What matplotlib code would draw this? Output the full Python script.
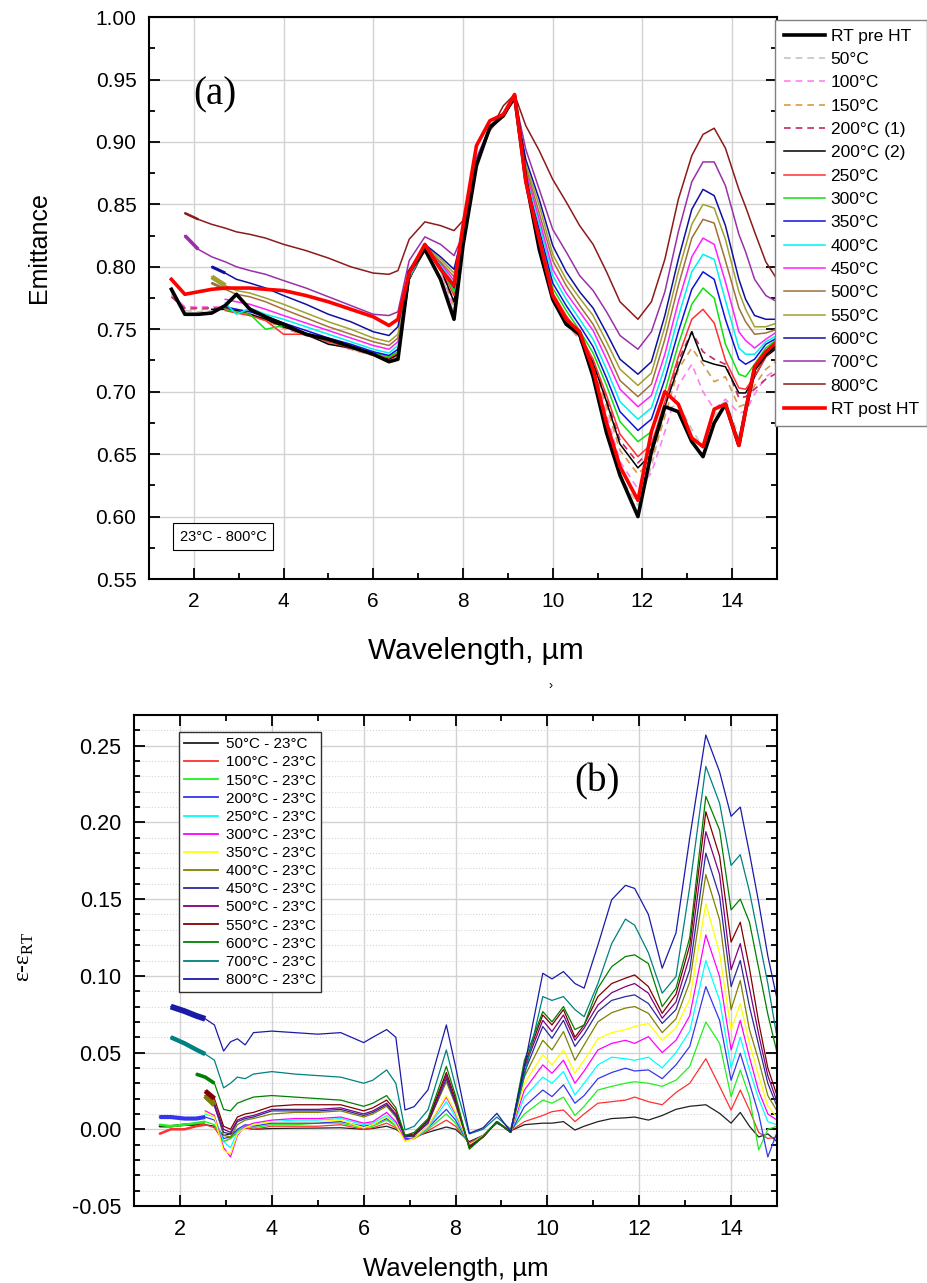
import matplotlib.pyplot as plt
from matplotlib.ticker import MultipleLocator, FormatStrFormatter

plt.rcParams['font.family'] = ['Liberation Sans', 'DejaVu Sans']

nan = float('nan')

# ---------------- (a) emittance vs wavelength ----------------
wl_a = [1.5, 1.8, 2.1, 2.4, 2.7, 2.95, 3.25, 3.6, 4.0,
        4.5, 5.0, 5.5, 6.0, 6.35, 6.55, 6.8, 7.15, 7.5,
        7.8, 8.0, 8.3, 8.6, 8.9, 9.15, 9.4, 9.7, 10.0,
        10.3, 10.6, 10.9, 11.2, 11.5, 11.9, 12.2, 12.5, 12.8,
        13.1, 13.35, 13.6, 13.85, 14.15, 14.3, 14.5, 14.75, 15.0]

rt_pre = [0.782, 0.762, 0.762, 0.763, 0.769, 0.778, 0.766, 0.760, 0.754,
          0.746, 0.742, 0.736, 0.730, 0.724, 0.726, 0.796, 0.814, 0.790,
          0.758, 0.817, 0.881, 0.912, 0.921, 0.937, 0.870, 0.814, 0.774,
          0.754, 0.746, 0.712, 0.667, 0.633, 0.600, 0.652, 0.688, 0.684,
          0.660, 0.648, 0.675, 0.690, 0.657, 0.685, 0.718, 0.730, 0.738]
e50 = [0.780, 0.765, 0.764, 0.765, 0.766, 0.766, 0.763, 0.758, 0.752,
       0.745, 0.739, 0.734, 0.729, 0.725, 0.728, 0.790, 0.814, 0.797,
       0.762, 0.818, 0.882, 0.910, 0.921, 0.934, 0.865, 0.815, 0.772,
       0.754, 0.742, 0.715, 0.676, 0.633, 0.609, 0.640, 0.685, 0.690,
       0.670, 0.655, 0.680, 0.694, 0.664, 0.685, 0.718, 0.730, 0.740]
e100 = [0.778, 0.768, 0.768, 0.768, 0.768, 0.765, 0.762, 0.757, 0.751,
        0.745, 0.739, 0.734, 0.729, 0.725, 0.729, 0.790, 0.814, 0.798,
        0.765, 0.819, 0.883, 0.910, 0.921, 0.934, 0.866, 0.817, 0.774,
        0.755, 0.742, 0.718, 0.682, 0.644, 0.622, 0.635, 0.668, 0.705,
        0.722, 0.700, 0.686, 0.694, 0.683, 0.684, 0.698, 0.712, 0.718]
e150 = [0.776, 0.766, 0.766, 0.766, 0.766, 0.764, 0.761, 0.757, 0.751,
        0.745, 0.740, 0.734, 0.729, 0.725, 0.729, 0.790, 0.814, 0.799,
        0.769, 0.820, 0.883, 0.910, 0.921, 0.934, 0.867, 0.819, 0.775,
        0.756, 0.742, 0.720, 0.688, 0.653, 0.634, 0.645, 0.680, 0.718,
        0.735, 0.722, 0.708, 0.712, 0.688, 0.690, 0.705, 0.718, 0.725]
e200_1 = [0.776, 0.767, 0.767, 0.767, 0.767, 0.765, 0.762, 0.758, 0.752,
          0.746, 0.740, 0.735, 0.730, 0.726, 0.730, 0.790, 0.814, 0.799,
          0.772, 0.820, 0.883, 0.910, 0.921, 0.934, 0.868, 0.821, 0.776,
          0.758, 0.744, 0.724, 0.694, 0.661, 0.643, 0.654, 0.690, 0.725,
          0.748, 0.732, 0.726, 0.722, 0.695, 0.696, 0.702, 0.710, 0.715]
e200_2 = [nan, nan, nan, 0.766, 0.766, 0.765, 0.762, 0.758, 0.752,
          0.746, 0.738, 0.735, 0.730, 0.726, 0.730, 0.790, 0.814, 0.799,
          0.772, 0.820, 0.883, 0.910, 0.921, 0.934, 0.868, 0.821, 0.776,
          0.758, 0.744, 0.723, 0.692, 0.658, 0.639, 0.650, 0.688, 0.720,
          0.748, 0.725, 0.722, 0.720, 0.699, 0.699, 0.712, 0.728, 0.735]
e250 = [nan, nan, nan, nan, 0.765, 0.763, 0.761, 0.757, 0.746,
        0.746, 0.740, 0.735, 0.730, 0.727, 0.731, 0.791, 0.814, 0.800,
        0.777, 0.821, 0.884, 0.910, 0.921, 0.934, 0.869, 0.824, 0.779,
        0.761, 0.746, 0.726, 0.697, 0.666, 0.648, 0.658, 0.692, 0.728,
        0.758, 0.766, 0.755, 0.725, 0.703, 0.702, 0.712, 0.728, 0.738]
e300 = [nan, nan, nan, nan, 0.766, 0.764, 0.762, 0.750, 0.753,
        0.747, 0.741, 0.736, 0.731, 0.728, 0.732, 0.791, 0.814, 0.800,
        0.780, 0.822, 0.884, 0.910, 0.922, 0.934, 0.870, 0.826, 0.783,
        0.765, 0.749, 0.731, 0.705, 0.676, 0.660, 0.668, 0.700, 0.738,
        0.770, 0.783, 0.775, 0.738, 0.714, 0.712, 0.722, 0.735, 0.742]
e350 = [nan, nan, nan, nan, 0.768, 0.766, 0.764, 0.760, 0.755,
        0.749, 0.743, 0.738, 0.732, 0.729, 0.734, 0.792, 0.814, 0.801,
        0.783, 0.823, 0.884, 0.910, 0.922, 0.934, 0.872, 0.830, 0.787,
        0.769, 0.753, 0.736, 0.711, 0.684, 0.669, 0.678, 0.710, 0.748,
        0.782, 0.796, 0.790, 0.758, 0.726, 0.722, 0.726, 0.738, 0.743]
e400 = [nan, nan, nan, nan, 0.771, 0.762, 0.767, 0.762, 0.758,
        0.752, 0.746, 0.740, 0.734, 0.731, 0.737, 0.792, 0.815, 0.802,
        0.786, 0.824, 0.885, 0.911, 0.922, 0.935, 0.874, 0.834, 0.793,
        0.774, 0.758, 0.742, 0.718, 0.692, 0.678, 0.687, 0.720, 0.760,
        0.796, 0.810, 0.806, 0.773, 0.735, 0.730, 0.730, 0.740, 0.745]
e450 = [nan, nan, nan, nan, 0.774, 0.772, 0.770, 0.766, 0.761,
        0.755, 0.749, 0.743, 0.737, 0.734, 0.740, 0.793, 0.815, 0.803,
        0.789, 0.825, 0.885, 0.911, 0.922, 0.935, 0.877, 0.838, 0.798,
        0.779, 0.764, 0.749, 0.726, 0.702, 0.688, 0.697, 0.730, 0.772,
        0.808, 0.823, 0.818, 0.788, 0.748, 0.741, 0.735, 0.742, 0.748]
e500 = [nan, nan, nan, 0.787, 0.782, 0.778, 0.776, 0.772, 0.766,
        0.759, 0.752, 0.746, 0.740, 0.737, 0.743, 0.794, 0.816, 0.804,
        0.792, 0.826, 0.885, 0.911, 0.922, 0.935, 0.880, 0.843, 0.805,
        0.785, 0.769, 0.754, 0.733, 0.709, 0.696, 0.706, 0.742, 0.785,
        0.823, 0.838, 0.835, 0.805, 0.767, 0.756, 0.746, 0.747, 0.750]
e550 = [nan, nan, nan, 0.792, 0.785, 0.781, 0.779, 0.775, 0.770,
        0.763, 0.756, 0.750, 0.743, 0.740, 0.746, 0.795, 0.817, 0.806,
        0.795, 0.827, 0.886, 0.911, 0.923, 0.935, 0.882, 0.849, 0.810,
        0.790, 0.775, 0.761, 0.740, 0.718, 0.705, 0.715, 0.752, 0.796,
        0.834, 0.850, 0.847, 0.822, 0.780, 0.766, 0.752, 0.752, 0.755]
e600 = [nan, nan, nan, 0.800, 0.795, 0.790, 0.787, 0.783, 0.777,
        0.770, 0.762, 0.756, 0.748, 0.745, 0.752, 0.797, 0.818, 0.808,
        0.798, 0.828, 0.886, 0.911, 0.923, 0.935, 0.886, 0.854, 0.817,
        0.796, 0.780, 0.767, 0.747, 0.726, 0.714, 0.724, 0.761, 0.806,
        0.846, 0.862, 0.857, 0.833, 0.790, 0.774, 0.761, 0.758, 0.758]
e700 = [nan, 0.825, 0.814, 0.808, 0.804, 0.800, 0.797, 0.794, 0.789,
        0.783, 0.776, 0.769, 0.762, 0.761, 0.764, 0.805, 0.824, 0.818,
        0.809, 0.826, 0.887, 0.912, 0.923, 0.936, 0.894, 0.862, 0.830,
        0.812, 0.793, 0.781, 0.764, 0.745, 0.734, 0.748, 0.780, 0.828,
        0.868, 0.884, 0.884, 0.865, 0.826, 0.812, 0.790, 0.777, 0.772]
e800 = [nan, 0.843, 0.838, 0.834, 0.831, 0.828, 0.826, 0.823, 0.818,
        0.813, 0.807, 0.800, 0.795, 0.794, 0.797, 0.822, 0.836, 0.833,
        0.829, 0.837, 0.883, 0.909, 0.929, 0.938, 0.913, 0.893, 0.870,
        0.852, 0.833, 0.818, 0.796, 0.772, 0.758, 0.772, 0.806, 0.854,
        0.889, 0.906, 0.911, 0.895, 0.862, 0.848, 0.828, 0.804, 0.790]
rt_post = [0.790, 0.778, 0.780, 0.782, 0.783, 0.783, 0.783, 0.782, 0.781,
           0.777, 0.772, 0.766, 0.760, 0.753, 0.758, 0.795, 0.818, 0.798,
           0.785, 0.833, 0.897, 0.917, 0.922, 0.938, 0.868, 0.822, 0.777,
           0.758, 0.748, 0.718, 0.675, 0.640, 0.613, 0.668, 0.700, 0.690,
           0.663, 0.656, 0.686, 0.690, 0.657, 0.685, 0.720, 0.732, 0.740]

labels_a = ['RT pre HT', '50°C', '100°C', '150°C', '200°C (1)', '200°C (2)',
            '250°C', '300°C', '350°C', '400°C', '450°C', '500°C', '550°C',
            '600°C', '700°C', '800°C', 'RT post HT']
series_a = [rt_pre, e50, e100, e150, e200_1, e200_2, e250, e300, e350, e400,
            e450, e500, e550, e600, e700, e800, rt_post]
colors_a = ['black', '#c4c4c4', '#ff80f0', '#d89a48', '#c02a6a', 'black',
            '#ff3030', '#10e010', '#1010e0', '#00f0f0', '#ff20ff', '#a0703a',
            '#a0a030', '#1010a0', '#9a30a8', '#8c1a1a', '#ff0000']
# noisy start of some scans: (label, first index, last index, band width)
noisy_a = [('700°C', 1, 2, 2.6), ('800°C', 1, 2, 1.8), ('550°C', 3, 4, 3.5),
           ('600°C', 3, 4, 2.2), ('500°C', 3, 4, 2.0)]

# ---------------- (b) difference spectra ----------------
wl_b = [1.55, 1.8, 2.1, 2.35, 2.55, 2.75, 2.95, 3.1, 3.25, 3.42,
        3.6, 4.0, 4.5, 5.0, 5.5, 6.0, 6.2, 6.5, 6.7, 6.9,
        7.1, 7.4, 7.8, 8.0, 8.3, 8.6, 8.9, 9.2, 9.5, 9.9,
        10.1, 10.35, 10.6, 10.8, 11.1, 11.4, 11.7, 11.9, 12.2, 12.5,
        12.8, 13.1, 13.45, 13.75, 14.0, 14.2, 14.4, 14.6, 14.8, 15.0]

d50 = [0.002, 0.002, 0.003, 0.003, 0.003, 0.002, -0.004, -0.003, -0.001, 0.001,
       0.000, 0.0005, 0.0007, 0.0008, 0.001, 0.000, 0.0005, 0.002, 0.000, -0.004,
       -0.005, -0.002, 0.0015, 0.000, -0.008, -0.004, 0.004, -0.001, 0.003, 0.004,
       0.004, 0.005, -0.0005, 0.002, 0.005, 0.007, 0.0075, 0.008, 0.006, 0.009,
       0.013, 0.015, 0.016, 0.0104, 0.004, 0.011, 0.002, -0.005, -0.003, -0.008]
d100 = [-0.003, 0.000, 0.000, 0.002, 0.003, 0.001, -0.008, -0.006, -0.002, 0.001,
        0.000, 0.002, 0.002, 0.002, 0.003, 0.000, 0.001, 0.004, 0.001, -0.006,
        -0.006, -0.001, 0.006, 0.002, -0.009, -0.004, 0.005, -0.001, 0.005, 0.009,
        0.0115, 0.0126, 0.005, 0.010, 0.017, 0.018, 0.019, 0.021, 0.018, 0.016,
        0.024, 0.030, 0.046, 0.028, 0.0126, 0.0256, 0.0126, -0.002, -0.006, -0.005]
d150 = [0.003, 0.002, 0.003, 0.004, 0.005, 0.003, -0.008, -0.006, -0.001, 0.002,
        0.001, 0.003, 0.003, 0.004, 0.004, 0.001, 0.002, 0.006, 0.002, -0.006,
        -0.006, 0.000, 0.010, 0.004, -0.010, -0.004, 0.005, -0.001, 0.010, 0.019,
        0.017, 0.021, 0.009, 0.015, 0.0256, 0.028, 0.030, 0.031, 0.030, 0.028,
        0.032, 0.041, 0.070, 0.056, 0.0213, 0.0387, 0.0213, -0.0135, 0.000, 0.002]
d200 = [0.008, 0.008, 0.007, 0.007, 0.008, 0.006, -0.006, -0.005, 0.000, 0.003,
        0.002, 0.004, 0.004, 0.004, 0.005, 0.002, 0.003, 0.007, 0.003, -0.006,
        -0.006, 0.001, 0.013, 0.006, -0.010, -0.005, 0.005, -0.002, 0.0148, 0.0256,
        0.0213, 0.029, 0.017, 0.022, 0.033, 0.037, 0.0398, 0.038, 0.0387, 0.033,
        0.042, 0.054, 0.093, 0.071, 0.032, 0.0495, 0.030, 0.010, -0.018, -0.002]
d250 = [nan, nan, nan, nan, 0.010, 0.008, -0.008, -0.012, -0.002, 0.002,
        0.003, 0.005, 0.006, 0.006, 0.007, 0.003, 0.004, 0.009, 0.004, -0.007,
        -0.006, 0.001, 0.018, 0.008, -0.010, -0.005, 0.005, -0.002, 0.021, 0.034,
        0.030, 0.0376, 0.0224, 0.030, 0.042, 0.047, 0.046, 0.045, 0.047, 0.040,
        0.050, 0.064, 0.110, 0.084, 0.040, 0.060, 0.0387, 0.020, 0.005, 0.003]
d300 = [nan, nan, nan, nan, 0.012, 0.009, -0.012, -0.018, -0.004, 0.002,
        0.004, 0.006, 0.007, 0.007, 0.008, 0.004, 0.005, 0.011, 0.005, -0.007,
        -0.006, 0.002, 0.021, 0.010, -0.010, -0.005, 0.005, -0.002, 0.0256, 0.042,
        0.0365, 0.045, 0.030, 0.038, 0.0517, 0.056, 0.058, 0.056, 0.0604, 0.050,
        0.058, 0.074, 0.1267, 0.0995, 0.0517, 0.071, 0.047, 0.025, 0.010, 0.006]
d350 = [nan, nan, nan, nan, 0.011, 0.008, -0.014, -0.016, -0.003, 0.001,
        0.003, 0.005, 0.005, 0.005, 0.006, 0.001, 0.003, 0.008, 0.003, -0.008,
        -0.006, 0.002, 0.022, 0.011, -0.010, -0.005, 0.005, -0.002, 0.030, 0.0485,
        0.042, 0.0517, 0.0365, 0.045, 0.059, 0.063, 0.065, 0.067, 0.069, 0.058,
        0.066, 0.085, 0.147, 0.1147, 0.0647, 0.082, 0.056, 0.035, 0.015, 0.008]
d400 = [nan, nan, nan, nan, 0.022, 0.016, -0.004, -0.005, 0.003, 0.006,
        0.007, 0.010, 0.011, 0.011, 0.012, 0.008, 0.010, 0.015, 0.008, -0.005,
        -0.004, 0.004, 0.031, 0.016, -0.011, -0.005, 0.005, -0.002, 0.0343, 0.058,
        0.0517, 0.0637, 0.045, 0.055, 0.070, 0.076, 0.079, 0.080, 0.0756, 0.063,
        0.072, 0.096, 0.166, 0.1365, 0.078, 0.097, 0.065, 0.045, 0.022, 0.012]
d450 = [nan, nan, nan, nan, 0.020, 0.015, -0.002, -0.003, 0.005, 0.007,
        0.008, 0.012, 0.012, 0.012, 0.013, 0.009, 0.011, 0.016, 0.009, -0.005,
        -0.004, 0.004, 0.033, 0.017, -0.011, -0.005, 0.005, -0.002, 0.037, 0.067,
        0.0593, 0.071, 0.054, 0.062, 0.0767, 0.084, 0.0865, 0.0876, 0.082, 0.069,
        0.078, 0.104, 0.180, 0.1517, 0.093, 0.110, 0.080, 0.055, 0.030, 0.015]
d500 = [nan, nan, nan, nan, 0.022, 0.017, 0.000, -0.002, 0.006, 0.008,
        0.009, 0.013, 0.013, 0.013, 0.014, 0.010, 0.012, 0.017, 0.010, -0.004,
        -0.004, 0.005, 0.035, 0.018, -0.012, -0.005, 0.005, -0.002, 0.040, 0.071,
        0.0637, 0.0745, 0.058, 0.066, 0.081, 0.089, 0.093, 0.095, 0.0887, 0.0724,
        0.083, 0.113, 0.194, 0.166, 0.104, 0.121, 0.092, 0.062, 0.035, 0.018]
d550 = [nan, nan, nan, nan, 0.025, 0.020, 0.002, 0.000, 0.008, 0.010,
        0.011, 0.015, 0.016, 0.016, 0.016, 0.012, 0.014, 0.019, 0.012, -0.004,
        -0.003, 0.006, 0.037, 0.020, -0.012, -0.005, 0.005, -0.002, 0.042, 0.0745,
        0.068, 0.078, 0.060, 0.068, 0.0865, 0.095, 0.0985, 0.1006, 0.093, 0.0756,
        0.088, 0.120, 0.207, 0.178, 0.122, 0.135, 0.105, 0.070, 0.040, 0.022]
d600 = [nan, nan, nan, 0.036, 0.034, 0.030, 0.013, 0.012, 0.017, 0.019,
        0.021, 0.022, 0.021, 0.020, 0.019, 0.015, 0.017, 0.022, 0.014, -0.004,
        -0.002, 0.007, 0.041, 0.022, -0.013, -0.005, 0.005, -0.002, 0.045, 0.0767,
        0.070, 0.080, 0.065, 0.068, 0.092, 0.106, 0.1126, 0.1137, 0.108, 0.080,
        0.092, 0.125, 0.217, 0.195, 0.143, 0.150, 0.135, 0.105, 0.075, 0.050]
d700 = [nan, 0.060, 0.056, 0.052, 0.049, 0.045, 0.027, 0.030, 0.034, 0.033,
        0.036, 0.0376, 0.036, 0.035, 0.034, 0.030, 0.032, 0.0387, 0.030, -0.0004,
        0.002, 0.0126, 0.0517, 0.028, -0.003, 0.000, 0.008, 0.000, 0.035, 0.0865,
        0.084, 0.0865, 0.078, 0.0734, 0.095, 0.121, 0.137, 0.133, 0.115, 0.0887,
        0.0995, 0.158, 0.2365, 0.2125, 0.172, 0.179, 0.155, 0.125, 0.095, 0.060]
d800 = [nan, 0.080, 0.077, 0.074, 0.072, 0.068, 0.051, 0.057, 0.059, 0.055,
        0.063, 0.064, 0.063, 0.062, 0.063, 0.0565, 0.060, 0.065, 0.060, 0.0126,
        0.0148, 0.0257, 0.068, 0.041, -0.0026, 0.001, 0.0104, -0.0016, 0.041, 0.1017,
        0.098, 0.1028, 0.095, 0.092, 0.120, 0.1496, 0.159, 0.157, 0.140, 0.105,
        0.128, 0.190, 0.257, 0.233, 0.204, 0.210, 0.180, 0.148, 0.113, 0.085]

labels_b = ['50°C - 23°C', '100°C - 23°C', '150°C - 23°C', '200°C - 23°C',
            '250°C - 23°C', '300°C - 23°C', '350°C - 23°C', '400°C - 23°C',
            '450°C - 23°C', '500°C - 23°C', '550°C - 23°C', '600°C - 23°C',
            '700°C - 23°C', '800°C - 23°C']
series_b = [d50, d100, d150, d200, d250, d300, d350, d400, d450, d500,
            d550, d600, d700, d800]
colors_b = ['#202020', '#ff3030', '#20f020', '#3535f0', '#00ffff', '#ff00ff',
            '#ffff00', '#808000', '#2a2a9a', '#800080', '#800000', '#008000',
            '#008080', '#1a1aa8']
noisy_b = [(0, 0, 4, 1.8), (1, 0, 4, 1.8), (2, 0, 4, 1.8), (3, 0, 4, 3.0),
           (7, 4, 5, 4.0), (10, 4, 5, 3.5), (11, 3, 5, 2.6),
           (12, 1, 4, 3.2), (13, 1, 4, 4.2)]

fig = plt.figure(figsize=(9.27, 12.83), dpi=100, facecolor='white')

# ---------- panel (a) ----------
ax1 = fig.add_axes([0.1607, 0.5487, 0.6775, 0.4380])
for y, lab, c in zip(series_a, labels_a, colors_a):
    if lab.startswith('RT'):
        ax1.plot(wl_a, y, color=c, lw=2.6, label=lab, zorder=5)
    elif lab in ('50°C', '100°C', '150°C', '200°C (1)'):
        ax1.plot(wl_a, y, color=c, lw=1.2, ls=(0, (4, 3)), label=lab, zorder=3)
    else:
        ax1.plot(wl_a, y, color=c, lw=1.1, label=lab, zorder=3)
for lab, i0, i1, w in noisy_a:
    k = labels_a.index(lab)
    ax1.plot(wl_a[i0:i1 + 1], series_a[k][i0:i1 + 1], color=colors_a[k],
             lw=w, solid_capstyle='butt', zorder=3)

ax1.set_xlim(1, 15)
ax1.set_ylim(0.55, 1.00)
ax1.xaxis.set_major_locator(MultipleLocator(2))
ax1.xaxis.set_minor_locator(MultipleLocator(1))
ax1.yaxis.set_major_locator(MultipleLocator(0.05))
ax1.yaxis.set_minor_locator(MultipleLocator(0.025))
ax1.yaxis.set_major_formatter(FormatStrFormatter('%.2f'))
ax1.grid(True, which='major', color='#d2d2d2', lw=1.0)
ax1.set_axisbelow(True)
ax1.tick_params(which='both', direction='in', right=True, top=False,
                labelsize=15, width=1.3, pad=9)
ax1.tick_params(which='major', length=8)
ax1.tick_params(which='minor', length=4)
for s in ax1.spines.values():
    s.set_linewidth(1.5)
ax1.set_ylabel('Emittance', fontsize=18)
ax1.yaxis.set_label_coords(-0.156, 0.59)
ax1.set_xlabel('Wavelength, µm', fontsize=21.5)
ax1.xaxis.set_label_coords(0.52, -0.103)
ax1.text(0.105, 0.862, '(a)', transform=ax1.transAxes, fontsize=28,
         family='Liberation Serif', ha='center', va='center')
ax1.text(0.118, 0.075, '23°C - 800°C', transform=ax1.transAxes, fontsize=10.5,
         ha='center', va='center',
         bbox=dict(boxstyle='square,pad=0.45', fc='white', ec='black', lw=0.8))
leg1 = ax1.legend(loc='upper left', bbox_to_anchor=(775 / 927, 1 - 20 / 1283),
                  bbox_transform=fig.transFigure, borderaxespad=0,
                  fontsize=12.5, labelspacing=0.47, handlelength=2.4,
                  handletextpad=0.3, borderpad=0.5, fancybox=False,
                  edgecolor='#808080', framealpha=1)
leg1.get_frame().set_linewidth(1.0)

# ---------- panel (b) ----------
ax2 = fig.add_axes([0.1446, 0.0600, 0.6936, 0.3827])
for y, lab, c in zip(series_b, labels_b, colors_b):
    ax2.plot(wl_b, y, color=c, lw=0.9, label=lab)
for k, i0, i1, w in noisy_b:
    ax2.plot(wl_b[i0:i1 + 1], series_b[k][i0:i1 + 1], color=colors_b[k],
             lw=w, solid_capstyle='butt')

ax2.set_xlim(1, 15)
ax2.set_ylim(-0.05, 0.27)
ax2.xaxis.set_major_locator(MultipleLocator(2))
ax2.xaxis.set_minor_locator(MultipleLocator(1))
ax2.yaxis.set_major_locator(MultipleLocator(0.05))
ax2.yaxis.set_minor_locator(MultipleLocator(0.01))
ax2.yaxis.set_major_formatter(FormatStrFormatter('%.2f'))
ax2.grid(True, which='major', color='#d2d2d2', lw=1.0)
ax2.yaxis.grid(True, which='minor', color='#d6d6d6', lw=0.8, ls=':')
ax2.set_axisbelow(True)
ax2.tick_params(which='both', direction='in', right=True, top=True,
                labelsize=15.5, width=1.3, pad=9)
ax2.tick_params(which='major', length=8)
ax2.tick_params(which='minor', length=4)
for s in ax2.spines.values():
    s.set_linewidth(1.5)
ax2.set_ylabel('ε-ε$_{\\mathregular{RT}}$', fontsize=17, family='Liberation Serif')
ax2.yaxis.set_label_coords(-0.152, 0.507)
ax2.set_xlabel('Wavelength, µm', fontsize=18.5)
ax2.xaxis.set_label_coords(0.5, -0.104)
ax2.text(0.72, 0.864, '(b)', transform=ax2.transAxes, fontsize=28,
         family='Liberation Serif', ha='center', va='center')
leg2 = ax2.legend(loc='upper left', bbox_to_anchor=(179 / 927, 1 - 732 / 1283),
                  bbox_transform=fig.transFigure, borderaxespad=0,
                  fontsize=11, labelspacing=0.27, handlelength=2.2,
                  handletextpad=0.5, borderpad=0.35, fancybox=False,
                  edgecolor='#303030', framealpha=1)
leg2.get_frame().set_linewidth(1.0)
for h in leg2.get_lines():
    h.set_linewidth(1.3)

fig.text(551 / 927, 1 - 686 / 1283, '›', fontsize=9, ha='center', va='center')

fig.savefig('out.png', dpi=100, facecolor='white')
